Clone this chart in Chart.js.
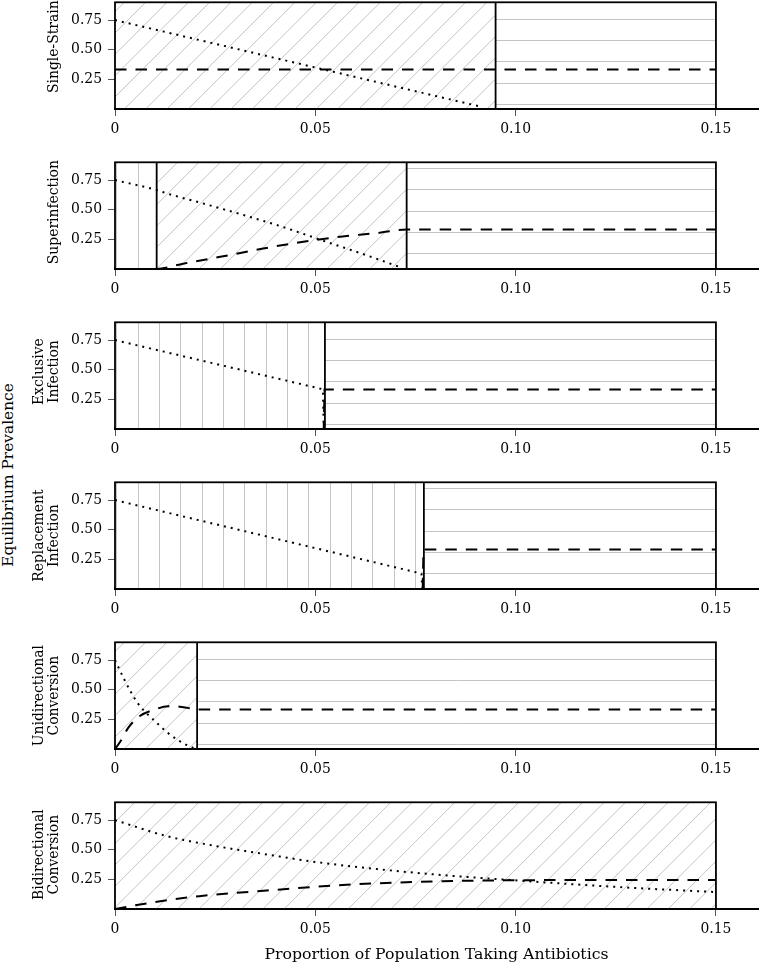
<!DOCTYPE html>
<html><head><meta charset="utf-8">
<script src="https://cdn.jsdelivr.net/npm/chart.js@4/dist/chart.umd.min.js"></script>
<style>
html,body{margin:0;padding:0;background:#fff;}
#wrap{position:relative;width:759px;height:965px;overflow:hidden;background:#fff;}
#wrap canvas{position:absolute;left:0;}
#ylab{position:absolute;left:9px;top:475px;transform:translate(-50%,-50%) rotate(-90deg);white-space:nowrap;font:15.4px "DejaVu Serif",serif;color:#000;line-height:1;}
</style></head><body>
<div id="wrap"><div id="ylab">Equilibrium Prevalence</div></div>
<script>
// ---------- data ----------
const xTicks = [0, 0.05, 0.10, 0.15];
const xTickLabels = ['0', '0.05', '0.10', '0.15'];
const yTicks = [0.25, 0.50, 0.75];
const yTickLabels = ['0.25', '0.50', '0.75'];
const xAxisTitle = 'Proportion of Population Taking Antibiotics';
const regionTop = 0.9;

// Panel 1: Single-Strain
const singleLabel = ['Single-Strain'];
const singleEdges = [0, 0.095, 0.15];
const singleHatch = ['/', '-'];
const singleSensX = [0, 0.02, 0.04, 0.06, 0.08, 0.0915];
const singleSensY = [0.75, 0.59, 0.43, 0.27, 0.11, 0.018];
const singleResX = [0, 0.15];
const singleResY = [0.333, 0.333];

// Panel 2: Superinfection
const superLabel = ['Superinfection'];
const superEdges = [0, 0.0104, 0.0728, 0.15];
const superHatch = ['|', '/', '-'];
const superSensX = [0, 0.0104, 0.0125, 0.0225, 0.0325, 0.0424, 0.0528, 0.0628, 0.0711];
const superSensY = [0.75, 0.666, 0.642, 0.548, 0.451, 0.349, 0.229, 0.116, 0.016];
const superResX = [0, 0.0104, 0.017, 0.027, 0.037, 0.047, 0.0562, 0.0661, 0.0728, 0.15];
const superResY = [0, 0, 0.045, 0.107, 0.173, 0.229, 0.272, 0.306, 0.333, 0.333];

// Panel 3: Exclusive Infection
const exclLabel = ['Exclusive', 'Infection'];
const exclEdges = [0, 0.0524, 0.15];
const exclHatch = ['|', '-'];
const exclSensX = [0, 0.0519, 0.0521];
const exclSensY = [0.75, 0.335, 0];
const exclResX = [0, 0.0521, 0.0523, 0.15];
const exclResY = [0, 0, 0.333, 0.333];

// Panel 4: Replacement Infection
const replLabel = ['Replacement', 'Infection'];
const replEdges = [0, 0.0771, 0.15];
const replHatch = ['|', '-'];
const replSensX = [0, 0.0765, 0.0767];
const replSensY = [0.75, 0.13, 0];
const replResX = [0, 0.0768, 0.077, 0.15];
const replResY = [0, 0, 0.333, 0.333];

// Panel 5: Unidirectional Conversion
const uniLabel = ['Unidirectional', 'Conversion'];
const uniEdges = [0, 0.0205, 0.15];
const uniHatch = ['/', '-'];
const uniSensX = [0, 0.00225, 0.0039, 0.0058, 0.0079, 0.0104, 0.0129, 0.0158, 0.0194, 0.0205];
const uniSensY = [0.75, 0.591, 0.485, 0.380, 0.301, 0.221, 0.144, 0.073, 0.011, 0.0];
const uniResX = [0, 0.00125, 0.00333, 0.0062, 0.0096, 0.0133, 0.0162, 0.0200, 0.0205, 0.15];
const uniResY = [0, 0.059, 0.18, 0.278, 0.329, 0.36, 0.357, 0.335, 0.333, 0.333];

// Panel 6: Bidirectional Conversion
const biLabel = ['Bidirectional', 'Conversion'];
const biEdges = [0, 0.15];
const biHatch = ['/'];
const biSensX = [0, 0.0129, 0.0254, 0.0379, 0.0504, 0.0662, 0.0828, 0.0994, 0.1161, 0.1327, 0.15];
const biSensY = [0.75, 0.615, 0.53, 0.46, 0.395, 0.334, 0.283, 0.243, 0.205, 0.172, 0.143];
const biResX = [0, 0.00875, 0.021, 0.0379, 0.0546, 0.0662, 0.08, 0.095, 0.11, 0.13, 0.15];
const biResY = [0, 0.052, 0.108, 0.156, 0.198, 0.218, 0.233, 0.241, 0.244, 0.245, 0.245];

const panels = [
  {label: singleLabel, edges: singleEdges, hatch: singleHatch, sx: singleSensX, sy: singleSensY, rx: singleResX, ry: singleResY, smooth: false, shift: -9},
  {label: superLabel, edges: superEdges, hatch: superHatch, sx: superSensX, sy: superSensY, rx: superResX, ry: superResY, smooth: true, shift: -3.5},
  {label: exclLabel, edges: exclEdges, hatch: exclHatch, sx: exclSensX, sy: exclSensY, rx: exclResX, ry: exclResY, smooth: false, shift: -4},
  {label: replLabel, edges: replEdges, hatch: replHatch, sx: replSensX, sy: replSensY, rx: replResX, ry: replResY, smooth: false, shift: 0},
  {label: uniLabel, edges: uniEdges, hatch: uniHatch, sx: uniSensX, sy: uniSensY, rx: uniResX, ry: uniResY, smooth: true, shift: 0},
  {label: biLabel, edges: biEdges, hatch: biHatch, sx: biSensX, sy: biSensY, rx: biResX, ry: biResY, smooth: true, shift: -1}
];

// ---------- style ----------
const FONT = '"DejaVu Serif", serif';
const TICK_SIZE = 13.9;
const HATCH_STEP = 21.33, H_PHASE = 18.7, V_PHASE = 9.8, D_PHASE = 20;
const HATCH_COLOR = '#c4c4c4';
const PANEL_STEP = 160, AREA_TOP = 2.3, AREA_BOTTOM = 109;
const LABEL_X = 54.5, LABEL_LINE = 15;

function makeDecor(p, gy) {
  return {
    id: 'decor',
    beforeDatasetsDraw(chart) {
      const ctx = chart.ctx, x = chart.scales.x, y = chart.scales.y;
      const yt = y.getPixelForValue(regionTop), yb = y.getPixelForValue(0);
      ctx.save();
      for (let r = 0; r < p.hatch.length; r++) {
        const x0 = x.getPixelForValue(p.edges[r]), x1 = x.getPixelForValue(p.edges[r + 1]);
        ctx.save();
        ctx.beginPath(); ctx.rect(x0, yt, x1 - x0, yb - yt); ctx.clip();
        ctx.strokeStyle = HATCH_COLOR; ctx.lineWidth = 1; ctx.beginPath();
        const k = p.hatch[r];
        if (k === '-') {
          const g0 = Math.ceil((yt + gy - H_PHASE) / HATCH_STEP) * HATCH_STEP + H_PHASE;
          for (let g = g0; g <= yb + gy; g += HATCH_STEP) {
            const ly = Math.round(g - gy) + 0.5;
            ctx.moveTo(x0, ly); ctx.lineTo(x1, ly);
          }
        } else if (k === '|') {
          const g0 = Math.ceil((x0 - V_PHASE) / HATCH_STEP) * HATCH_STEP + V_PHASE;
          for (let g = g0; g <= x1; g += HATCH_STEP) {
            const lx = Math.round(g) + 0.5;
            ctx.moveTo(lx, yt); ctx.lineTo(lx, yb);
          }
        } else {
          const cmin = x0 + yt + gy, cmax = x1 + yb + gy;
          const c0 = Math.floor((cmin - D_PHASE) / HATCH_STEP) * HATCH_STEP + D_PHASE;
          for (let c = c0; c <= cmax + HATCH_STEP; c += HATCH_STEP) {
            ctx.moveTo(c - gy - yb, yb); ctx.lineTo(c - gy - yt, yt);
          }
        }
        ctx.stroke();
        ctx.restore();
      }
      ctx.strokeStyle = '#000'; ctx.lineWidth = 1.8;
      const xl = x.getPixelForValue(p.edges[0]), xr = x.getPixelForValue(p.edges[p.edges.length - 1]);
      ctx.strokeRect(xl, yt, xr - xl, yb - yt);
      ctx.beginPath();
      for (let i = 1; i < p.edges.length - 1; i++) {
        const xe = x.getPixelForValue(p.edges[i]);
        ctx.moveTo(xe, yt); ctx.lineTo(xe, yb);
      }
      ctx.stroke();
      ctx.restore();
    },
    afterDraw(chart) {
      const ctx = chart.ctx, a = chart.chartArea;
      const cy = (a.top + a.bottom) / 2 + p.shift;
      ctx.save();
      ctx.font = TICK_SIZE + 'px ' + FONT;
      ctx.fillStyle = '#000'; ctx.textAlign = 'center'; ctx.textBaseline = 'middle';
      const n = p.label.length;
      p.label.forEach((t, i) => {
        ctx.save();
        ctx.translate(LABEL_X - (n - 1 - i) * LABEL_LINE, cy);
        ctx.rotate(-Math.PI / 2);
        ctx.fillText(t, 0, 0);
        ctx.restore();
      });
      ctx.restore();
    }
  };
}

function lineDS(xs, ys, dotted, smooth) {
  return {
    data: xs.map((v, i) => ({x: v, y: ys[i]})),
    borderColor: '#000', borderWidth: 2,
    borderDash: dotted ? [2, 5] : [11.5, 9],
    borderCapStyle: 'butt',
    pointRadius: 0, pointHoverRadius: 0, fill: false,
    tension: 0, cubicInterpolationMode: smooth ? 'monotone' : 'default'
  };
}

const wrap = document.getElementById('wrap');
panels.forEach((p, idx) => {
  const last = idx === panels.length - 1;
  const H = last ? 965 - PANEL_STEP * idx : PANEL_STEP;
  const gy = PANEL_STEP * idx;
  const cv = document.createElement('canvas');
  cv.width = 759; cv.height = H;
  cv.style.width = '759px'; cv.style.height = H + 'px'; cv.style.top = gy + 'px';
  wrap.appendChild(cv);
  new Chart(cv, {
    type: 'line',
    data: { datasets: [lineDS(p.sx, p.sy, true, p.smooth), lineDS(p.rx, p.ry, false, p.smooth)] },
    options: {
      responsive: false, animation: false, devicePixelRatio: 1,
      events: [],
      layout: { padding: { top: AREA_TOP, left: 0, right: 1, bottom: 0 } },
      plugins: { legend: { display: false }, tooltip: { enabled: false } },
      scales: {
        x: {
          type: 'linear', min: 0, max: 0.1605,
          afterBuildTicks: s => { s.ticks = xTicks.map(v => ({value: v})); },
          afterFit: s => { s.height = H - AREA_BOTTOM; s.paddingLeft = 0; s.paddingRight = 0; },
          ticks: { autoSkip: false, maxRotation: 0, padding: 5, color: '#000',
                   font: { family: FONT, size: TICK_SIZE },
                   callback: (v, i) => xTickLabels[i] },
          grid: { drawOnChartArea: false, drawTicks: true, tickLength: 7, tickColor: '#555', tickWidth: 1 },
          border: { display: true, color: '#000', width: 2 },
          title: { display: last, text: xAxisTitle, color: '#000',
                   font: { family: FONT, size: 15.7 }, padding: { top: 0, bottom: 1 } }
        },
        y: {
          type: 'linear', min: 0, max: regionTop,
          afterBuildTicks: s => { s.ticks = yTicks.map(v => ({value: v})); },
          afterFit: s => { s.width = 115; s.paddingTop = 0; s.paddingBottom = 0; },
          ticks: { autoSkip: false, padding: 6, color: '#000',
                   font: { family: FONT, size: TICK_SIZE },
                   callback: (v, i) => yTickLabels[i] },
          grid: { drawOnChartArea: false, drawTicks: true, tickLength: 7, tickColor: '#555', tickWidth: 1 },
          border: { display: false }
        }
      }
    },
    plugins: [makeDecor(p, gy)]
  });
});
</script>
</body></html>
